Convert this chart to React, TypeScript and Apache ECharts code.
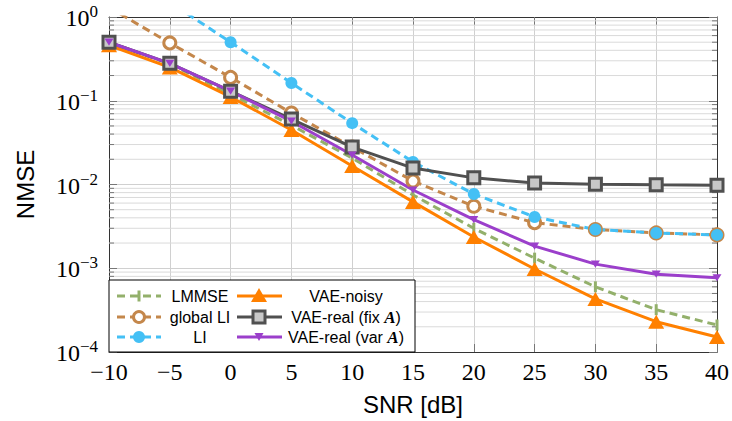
import React, { useEffect, useRef } from "react";
import * as echarts from "echarts";

const snr = [-10, -5, 0, 5, 10, 15, 20, 25, 30, 35, 40];
const lmmse = [0.5, 0.275, 0.12, 0.051, 0.0207, 0.0075, 0.003, 0.00132, 0.0006, 0.00032, 0.00021];
const globalLI = [1.3, 0.49, 0.19, 0.0714, 0.028, 0.011, 0.0055, 0.0035, 0.0029, 0.00264, 0.0025];
const li = [4.0, 1.5, 0.5, 0.163, 0.054, 0.0186, 0.0077, 0.0041, 0.0029, 0.00264, 0.0025];
const vaeNoisy = [0.46, 0.25, 0.111, 0.0448, 0.0166, 0.0062, 0.00236, 0.00098, 0.00043, 0.00023, 0.000151];
const vaeFix = [0.5, 0.28, 0.13, 0.0605, 0.028, 0.0157, 0.012, 0.0104, 0.0101, 0.0099, 0.0098];
const vaeVar = [0.5, 0.28, 0.13, 0.057, 0.0225, 0.0086, 0.0038, 0.00184, 0.00112, 0.00085, 0.00077];

const legendNames = ["LMMSE", "global LI", "LI", "VAE-noisy", "VAE-real (fix A)", "VAE-real (var A)"];

const C = {
  green: "#93B06B",
  brown: "#C4874B",
  blue: "#44C0F5",
  orange: "#FF8000",
  gray: "#505050",
  purple: "#9B3FCB",
};

const minorVals: number[] = [];
for (let e = -4; e < 0; e++) for (let m = 2; m <= 9; m++) minorVals.push(m * Math.pow(10, e));

const serif = "'Liberation Serif', 'DejaVu Serif', serif";
const sans = "'Liberation Sans', Arial, sans-serif";

function pairs(ys: number[]) {
  return snr.map((x, i) => [x, ys[i]]);
}

export default function App() {
  const ref = useRef<HTMLDivElement>(null);
  useEffect(() => {
    if (!ref.current) return;
    const chart = echarts.init(ref.current, undefined, { renderer: "svg" });
    const dash = [8, 5];
    const gl = 109, gt = 17, gw = 609, gh = 335;

    // legend layout
    const bx = 109, by = 280, bw = 306, bh = 72;
    const rows = [296, 317, 337];
    const c1 = { l1: 117, l2: 161, m: 139, t: 200 };
    const c2 = { l1: 237, l2: 282, m: 259, t: 346 };
    const rich = {
      t: { fontFamily: sans, fontSize: 16, fill: "#000", color: "#000" },
      a: { fontFamily: serif, fontSize: 17, fontStyle: "italic", fontWeight: "bold", fill: "#000", color: "#000" },
    };
    const lg: any[] = [];
    lg.push({ type: "rect", shape: { x: bx, y: by, width: bw, height: bh }, style: { fill: "#fff", stroke: "#000", lineWidth: 1 }, z: 100 });
    const addLine = (col: any, y: number, color: string, dashed: boolean) =>
      lg.push({ type: "line", shape: { x1: col.l1, y1: y, x2: col.l2, y2: y }, style: { stroke: color, lineWidth: 3, lineDash: dashed ? dash : null }, z: 101 });
    const addText = (col: any, y: number, s: string) =>
      lg.push({ type: "text", x: col.t, y, style: { text: s, rich, align: "center", verticalAlign: "middle", fontFamily: sans, fontSize: 16, fill: "#000" }, z: 102 });
    addLine(c1, rows[0], C.green, true);
    lg.push({ type: "rect", shape: { x: c1.m - 1.5, y: rows[0] - 5.5, width: 3, height: 11 }, style: { fill: C.green }, z: 102 });
    addText(c1, rows[0], "{t|" + legendNames[0] + "}");
    addLine(c1, rows[1], C.brown, true);
    lg.push({ type: "circle", shape: { cx: c1.m, cy: rows[1], r: 5.5 }, style: { fill: "#fff", stroke: C.brown, lineWidth: 3 }, z: 102 });
    addText(c1, rows[1], "{t|" + legendNames[1] + "}");
    addLine(c1, rows[2], C.blue, true);
    lg.push({ type: "circle", shape: { cx: c1.m, cy: rows[2], r: 6 }, style: { fill: C.blue }, z: 102 });
    addText(c1, rows[2], "{t|" + legendNames[2] + "}");
    addLine(c2, rows[0], C.orange, false);
    lg.push({ type: "polygon", shape: { points: [[c2.m, rows[0] - 8], [c2.m - 8, rows[0] + 6], [c2.m + 8, rows[0] + 6]] }, style: { fill: C.orange }, z: 102 });
    addText(c2, rows[0], "{t|" + legendNames[3] + "}");
    addLine(c2, rows[1], C.gray, false);
    lg.push({ type: "rect", shape: { x: c2.m - 6, y: rows[1] - 6, width: 12, height: 12 }, style: { fill: "#c8c8c8", stroke: C.gray, lineWidth: 3 }, z: 102 });
    addText(c2, rows[1], "{t|VAE-real (fix }{a|A}{t|)}");
    addLine(c2, rows[2], C.purple, false);
    lg.push({ type: "polygon", shape: { points: [[c2.m - 4.5, rows[2] - 4], [c2.m + 4.5, rows[2] - 4], [c2.m, rows[2] + 4]] }, style: { fill: C.purple }, z: 102 });
    addText(c2, rows[2], "{t|VAE-real (var }{a|A}{t|)}");

    const yLabel = (v: number) => {
      const e = Math.round(Math.log10(v));
      return "{b|10}{s|" + (e < 0 ? "\u2212" + -e : String(e)) + "}";
    };

    const baseLine = (name: string, data: number[], color: string, dashed: boolean, extra: any) => ({
      type: "line",
      name,
      data: pairs(data),
      lineStyle: { color, width: 3, type: dashed ? dash : "solid" },
      itemStyle: { color },
      showSymbol: true,
      symbolKeepAspect: true,
      clip: true,
      z: 3,
      ...extra,
    });

    const option: any = {
      animation: false,
      backgroundColor: "#fff",
      grid: { left: gl, top: gt, width: gw, height: gh, containLabel: false },
      xAxis: [
        {
          type: "value",
          min: -10,
          max: 40,
          interval: 5,
          position: "bottom",
          axisLine: { show: true, onZero: false, lineStyle: { color: "#333", width: 1 } },
          axisTick: { show: true, inside: true, length: 8, lineStyle: { color: "#777" } },
          axisLabel: {
            margin: 8,
            fontFamily: serif,
            fontSize: 24,
            color: "#000",
            formatter: (v: number) => (v < 0 ? "\u2212" + -v : String(v)),
          },
          splitLine: { show: true, showMinLine: false, showMaxLine: false, lineStyle: { color: "#d0d0d0", width: 1 } },
          name: "SNR [dB]",
          nameLocation: "middle",
          nameGap: 40,
          nameTextStyle: { fontFamily: sans, fontSize: 24, color: "#000" },
        },
        {
          type: "value",
          min: -10,
          max: 40,
          interval: 5,
          position: "top",
          axisLine: { show: true, onZero: false, lineStyle: { color: "#333", width: 1 } },
          axisTick: { show: true, inside: true, length: 8, lineStyle: { color: "#777" } },
          axisLabel: { show: false },
          splitLine: { show: false },
        },
      ],
      yAxis: [
        {
          type: "log",
          logBase: 10,
          min: 1e-4,
          max: 1,
          position: "left",
          axisLine: { show: true, onZero: false, lineStyle: { color: "#333", width: 1 } },
          axisTick: { show: true, inside: true, length: 8, lineStyle: { color: "#777" } },
          axisLabel: {
            margin: 11,
            formatter: yLabel,
            rich: {
              b: { fontFamily: serif, fontSize: 24, color: "#000", verticalAlign: "bottom", lineHeight: 26 },
              s: { fontFamily: serif, fontSize: 17, color: "#000", verticalAlign: "bottom", padding: [0, 0, 10, 0], lineHeight: 17 },
            },
          },
          splitLine: { show: true, showMinLine: false, showMaxLine: false, lineStyle: { color: "#d0d0d0", width: 1 } },
          name: "NMSE",
          nameLocation: "middle",
          nameGap: 72,
          nameTextStyle: { fontFamily: sans, fontSize: 24, color: "#000" },
        },
        {
          type: "log",
          logBase: 10,
          min: 1e-4,
          max: 1,
          position: "right",
          axisLine: { show: true, onZero: false, lineStyle: { color: "#333", width: 1 } },
          axisTick: { show: true, inside: true, length: 8, lineStyle: { color: "#777" } },
          axisLabel: { show: false },
          splitLine: { show: false },
        },
      ],
      graphic: lg,
      series: [
        {
          type: "custom",
          name: "minor",
          coordinateSystem: "cartesian2d",
          silent: true,
          clip: false,
          z: 1,
          data: minorVals.map((v) => [-10, v]),
          renderItem: (params: any, api: any) => {
            const v = api.value(1);
            const pL = api.coord([-10, v]);
            const pR = api.coord([40, v]);
            const st = { stroke: "#777", lineWidth: 1 };
            return {
              type: "group",
              children: [
                { type: "line", shape: { x1: pL[0], y1: pL[1], x2: pR[0], y2: pR[1] }, style: { stroke: "#dadada", lineWidth: 1 } },
                { type: "line", shape: { x1: pL[0], y1: pL[1], x2: pL[0] + 5, y2: pL[1] }, style: st },
                { type: "line", shape: { x1: pR[0] - 5, y1: pR[1], x2: pR[0], y2: pR[1] }, style: st },
              ],
            };
          },
        },
        baseLine(legendNames[0], lmmse, C.green, true, { symbol: "rect", symbolSize: [3, 11] }),
        baseLine(legendNames[1], globalLI, C.brown, true, {
          symbol: "circle",
          symbolSize: 12,
          itemStyle: { color: "#fff", borderColor: C.brown, borderWidth: 3 },
        }),
        baseLine(legendNames[2], li, C.blue, true, { symbol: "circle", symbolSize: 12 }),
        baseLine(legendNames[3], vaeNoisy, C.orange, false, { symbol: "triangle", symbolSize: [16, 14] }),
        baseLine(legendNames[4], vaeFix, C.gray, false, {
          symbol: "rect",
          symbolSize: 12,
          itemStyle: { color: "#c8c8c8", borderColor: C.gray, borderWidth: 3 },
        }),
        baseLine(legendNames[5], vaeVar, C.purple, false, { symbol: "path://M0,0 L10,0 L5,9 Z", symbolSize: [9, 8] }),
      ],
    };
    chart.setOption(option);
    return () => chart.dispose();
  }, []);
  return <div ref={ref} style={{ position: "fixed", left: 0, top: 0, width: 732, height: 421 }} />;
}
